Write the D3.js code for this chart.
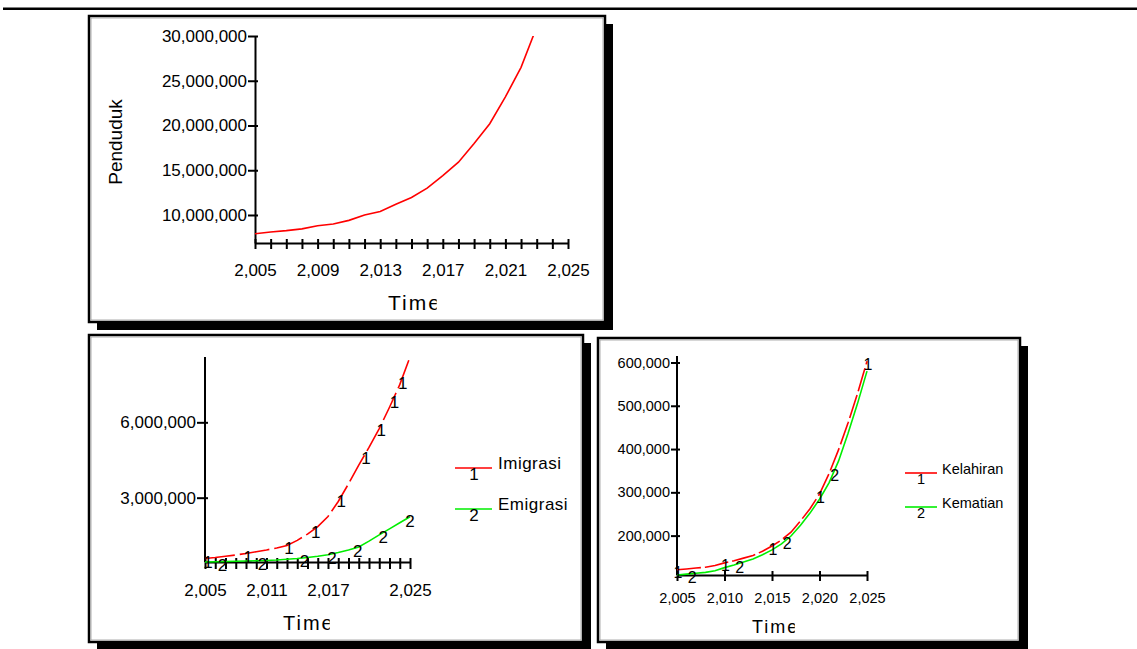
<!DOCTYPE html>
<html><head><meta charset="utf-8">
<script src="https://cdn.jsdelivr.net/npm/d3@7"></script>
<style>
body{margin:0;background:#fff;}
svg{display:block;font-family:"Liberation Sans",Arial,sans-serif;}
</style></head><body>
<svg id="c" width="1137" height="649"></svg>
<script>
// ---------------- data ----------------
const pendudukYears = [2005,2006,2007,2008,2009,2010,2011,2012,2013,2014,2015,2016,2017,2018,2019,2020,2021,2022,2023];
const penduduk = [7900000,8100000,8250000,8450000,8800000,9000000,9400000,10000000,10400000,11200000,11950000,13000000,14400000,15900000,18000000,20200000,23200000,26500000,31000000];

const years = [2005,2006,2007,2008,2009,2010,2011,2012,2013,2014,2015,2016,2017,2018,2019,2020,2021,2022,2023,2024,2025];
const imigrasi = [580000,620000,670000,720000,780000,850000,920000,1000000,1100000,1300000,1550000,1850000,2250000,2850000,3550000,4300000,5000000,5750000,6600000,7500000,8600000];
const emigrasi = [440000,450000,460000,470000,480000,490000,500000,520000,550000,580000,620000,670000,730000,820000,920000,1040000,1270000,1520000,1760000,2000000,2240000];
const kelahiran = [121000,123000,125000,127000,131000,137000,142000,148000,154000,164000,176000,190000,208000,234000,262000,296000,343000,398000,460000,528000,603000];
const kematian = [109000,111000,113000,115000,119000,126000,132000,139000,146000,156000,167000,181000,199000,224000,252000,284000,322000,372000,436000,505000,580000];

const chart1XLabels = [2005,2009,2013,2017,2021,2025];
const chart1YTicks = [10000000,15000000,20000000,25000000,30000000];
const chart2XLabels = [2005,2011,2017,2025];
const chart2YTicks = [3000000,6000000];
const chart3XTicks = [2005,2010,2015,2020,2025];
const chart3YTicks = [200000,300000,400000,500000,600000];

const imigrasiMarks = [2005.2,2009.1,2013.1,2015.7,2018.2,2020.6,2022.1,2023.4,2024.2];
const emigrasiMarks = [2006.6,2010.5,2014.6,2017.3,2019.8,2022.3,2024.9];
const kelahiranMarks = [2005,2010,2015,2020,2025];
const kematianMarks = [2006.5,2011.5,2016.5,2021.5];

// ---------------- drawing ----------------
const svg = d3.select("#c");
const fmt = d3.format(",");
const RED = "#ff0000", GREEN = "#00ee00";

// top rule
svg.append("rect").attr("x",3).attr("y",7.5).attr("width",1134).attr("height",2.5).attr("fill","#000");

function panel(x,y,w,h){
  svg.append("rect").attr("x",x+8).attr("y",y+8).attr("width",w).attr("height",h).attr("fill","#000");
  svg.append("rect").attr("x",x).attr("y",y).attr("width",w).attr("height",h).attr("fill","#fff").attr("stroke","#000").attr("stroke-width",2.5);
  svg.append("rect").attr("x",x+2).attr("y",y+2).attr("width",w-4).attr("height",h-4).attr("fill","none").attr("stroke","#999").attr("stroke-width",0.8);
}
panel(89,16,516,306);
panel(89,335,494,307);
panel(598,338,422,304);

function styleAxis(g, fs){
  g.selectAll("path.domain").attr("stroke","#000").attr("stroke-width",2);
  g.selectAll(".tick line").attr("stroke","#000").attr("stroke-width",2);
  g.selectAll("text").attr("fill","#000").attr("font-size",fs).attr("font-family","'Liberation Sans',Arial,sans-serif");
}

function timeLabel(x,y,fs,id){
  const t = svg.append("text").attr("x",x).attr("y",y).attr("font-size",fs).attr("letter-spacing","2px")
    .attr("dominant-baseline","central").attr("fill","#000").text("Time");
  const node = t.node();
  const ext = node.getExtentOfChar(3);
  const cx = ext.x + ext.width*0.62;
  svg.append("clipPath").attr("id",id).append("rect").attr("x",x-5).attr("y",y-30).attr("width",cx-x+5).attr("height",60);
  t.attr("clip-path",`url(#${id})`);
}

function markValue(xs, vals, t){
  let i = d3.bisectRight(xs, t) - 1;
  i = Math.max(0, Math.min(xs.length-2, i));
  const f = (t - xs[i])/(xs[i+1]-xs[i]);
  return vals[i] + f*(vals[i+1]-vals[i]);
}

function marks(xs, vals, times, label, x, y, fs, dx, dy){
  svg.append("g").selectAll("text").data(times).join("text")
    .attr("x", t => x(t)+dx).attr("y", t => y(markValue(xs, vals, t))+dy)
    .attr("text-anchor","middle").attr("dominant-baseline","central")
    .attr("font-size",fs).attr("fill","#000").text(label);
}

// ===== Chart 1: Penduduk =====
{
  const x = d3.scaleLinear().domain([2005,2025]).range([255,568]);
  const y = d3.scaleLinear().domain([6870000,30000000]).range([243,36]);
  const gx = svg.append("g").attr("transform","translate(0,243)")
    .call(d3.axisBottom(x).tickValues(years).tickFormat(d => chart1XLabels.includes(d) ? fmt(d) : "").tickSize(6).tickSizeOuter(0).tickPadding(15));
  gx.selectAll(".tick line").attr("y1",-4);
  styleAxis(gx,17);
  const gy = svg.append("g").attr("transform","translate(255,0)")
    .call(d3.axisLeft(y).tickValues(chart1YTicks).tickFormat(fmt).tickSize(7).tickSizeOuter(0).tickPadding(1));
  gy.selectAll(".tick line").attr("x1",3);
  styleAxis(gy,17);
  svg.append("clipPath").attr("id","clip1").append("rect").attr("x",255).attr("y",36).attr("width",320).attr("height",207);
  svg.append("path").datum(pendudukYears.map((d,i)=>[d,penduduk[i]]))
    .attr("d", d3.line().x(d=>x(d[0])).y(d=>y(d[1])))
    .attr("fill","none").attr("stroke",RED).attr("stroke-width",1.6).attr("clip-path","url(#clip1)");
  svg.append("text").attr("transform","translate(122,142) rotate(-90)").attr("text-anchor","middle")
    .attr("font-size",19).attr("fill","#000").text("Penduduk");
  timeLabel(388,302,21,"tc1");
}

// ===== Chart 2: Imigrasi / Emigrasi =====
{
  const x = d3.scaleLinear().domain([2005,2025]).range([205,410]);
  const y = d3.scaleLinear().domain([440000,8600000]).range([562,357]);
  const gx = svg.append("g").attr("transform","translate(0,562)")
    .call(d3.axisBottom(x).tickValues(years).tickFormat(d => chart2XLabels.includes(d) ? fmt(d) : "").tickSize(7).tickSizeOuter(0).tickPadding(15));
  gx.selectAll(".tick line").attr("y1",-4);
  styleAxis(gx,17);
  const gy = svg.append("g").attr("transform","translate(205,0)")
    .call(d3.axisLeft(y).tickValues(chart2YTicks).tickFormat(fmt).tickSize(8).tickSizeOuter(0).tickPadding(1));
  gy.selectAll(".tick line").attr("x1",3);
  gy.select("path.domain").attr("d","M0,357V562");
  styleAxis(gy,17);
  const line = d3.line().x(d=>x(d[0])).y(d=>y(d[1]));
  svg.append("path").datum(years.map((d,i)=>[d,emigrasi[i]])).attr("d",line)
    .attr("fill","none").attr("stroke",GREEN).attr("stroke-width",1.6);
  svg.append("path").datum(years.map((d,i)=>[d,imigrasi[i]])).attr("d",line)
    .attr("fill","none").attr("stroke",RED).attr("stroke-width",1.6).attr("stroke-dasharray","30,5");
  marks(years, imigrasi, imigrasiMarks, "1", x, y, 17, 1, 4);
  marks(years, emigrasi, emigrasiMarks, "2", x, y, 17, 1, 4);
  // legend
  const lg = [["Imigrasi",RED,"1",468],["Emigrasi",GREEN,"2",509]];
  lg.forEach(([name,col,lab,ly])=>{
    svg.append("line").attr("x1",455).attr("x2",492).attr("y1",ly).attr("y2",ly).attr("stroke",col).attr("stroke-width",1.6);
    svg.append("text").attr("x",474).attr("y",ly+6).attr("text-anchor","middle").attr("dominant-baseline","central").attr("font-size",17).text(lab);
    svg.append("text").attr("x",498).attr("y",ly-5).attr("dominant-baseline","central").attr("font-size",17).attr("letter-spacing","0.5px").text(name);
  });
  timeLabel(283,623,20,"tc2");
}

// ===== Chart 3: Kelahiran / Kematian =====
{
  const x = d3.scaleLinear().domain([2005,2025]).range([677,867]);
  const y = d3.scaleLinear().domain([109000,615000]).range([575,356]);
  const gx = svg.append("g").attr("transform","translate(0,575)")
    .call(d3.axisBottom(x).tickValues(chart3XTicks).tickFormat(fmt).tickSize(6).tickSizeOuter(0).tickPadding(12));
  gx.selectAll(".tick line").attr("y1",-4);
  styleAxis(gx,14.5);
  const gy = svg.append("g").attr("transform","translate(677,0)")
    .call(d3.axisLeft(y).tickValues(chart3YTicks).tickFormat(fmt).tickSize(6).tickSizeOuter(0).tickPadding(1));
  gy.selectAll(".tick line").attr("x1",3);
  gy.select("path.domain").attr("d","M0,356V575");
  styleAxis(gy,14.5);
  const line = d3.line().x(d=>x(d[0])).y(d=>y(d[1]));
  svg.append("path").datum(years.map((d,i)=>[d,kematian[i]])).attr("d",line)
    .attr("fill","none").attr("stroke",GREEN).attr("stroke-width",1.6);
  svg.append("path").datum(years.map((d,i)=>[d,kelahiran[i]])).attr("d",line)
    .attr("fill","none").attr("stroke",RED).attr("stroke-width",1.6).attr("stroke-dasharray","24,4");
  marks(years, kelahiran, kelahiranMarks, "1", x, y, 16, 1, 3);
  marks(years, kematian, kematianMarks, "2", x, y, 16, 1, 4);
  const lg = [["Kelahiran",RED,"1",473],["Kematian",GREEN,"2",507]];
  lg.forEach(([name,col,lab,ly])=>{
    svg.append("line").attr("x1",905).attr("x2",937).attr("y1",ly).attr("y2",ly).attr("stroke",col).attr("stroke-width",1.6);
    svg.append("text").attr("x",921).attr("y",ly+6).attr("text-anchor","middle").attr("dominant-baseline","central").attr("font-size",14.5).text(lab);
    svg.append("text").attr("x",942).attr("y",ly-4).attr("dominant-baseline","central").attr("font-size",14.5).text(name);
  });
  timeLabel(752,627,18,"tc3");
}
</script>
</body></html>
